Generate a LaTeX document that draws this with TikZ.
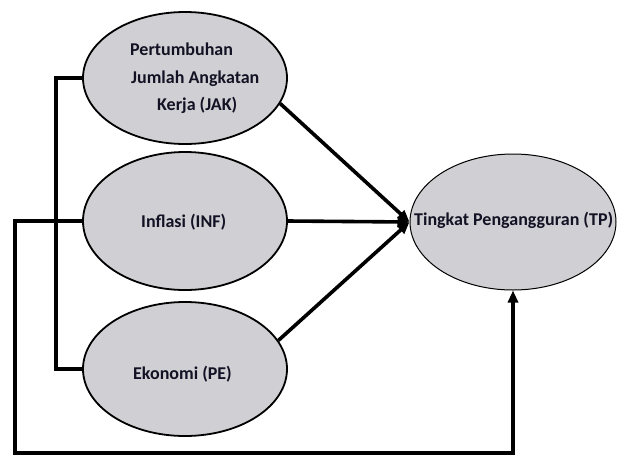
\documentclass[tikz,border=0pt]{standalone}
\usepackage{fontspec}
\setmainfont{Carlito}
\usetikzlibrary{shapes.geometric,arrows.meta}
\definecolor{ellfill}{RGB}{208,207,211}
\definecolor{txt}{RGB}{18,18,36}
\begin{document}
\begin{tikzpicture}[x=1pt,y=-1pt,
  var/.style={ellipse,draw=black,line width=1.8pt,fill=ellfill,inner sep=0pt,
    minimum width=204pt,minimum height=132pt},
  lbl/.style={font=\bfseries\fontsize{18}{22}\selectfont,text=txt,inner sep=0pt,anchor=base west},
  conn/.style={line width=3.6pt},
  arr/.style={conn,-{Triangle[length=12pt,width=10pt]}}]
\useasboundingbox (0,0) rectangle (622,456);
\node[var] (jak) at (185,78) {};
\node[var,minimum height=138pt] (inf) at (185,221) {};
\node[var,minimum height=134pt] (pe) at (185,369) {};
\node[var,line width=1pt,minimum width=206pt,minimum height=136pt] (tp) at (513,222) {};
\node[lbl] (t1) at (130,55) {Pertumbuhan};
\node[lbl] (t2) at (131,83) {Jumlah Angkatan};
\node[lbl] (t3) at (157,110) {Kerja (JAK)};
\node[lbl] (t4) at (141,227) {Inflasi (INF)};
\node[lbl] (t5) at (133,379) {Ekonomi (PE)};
\node[lbl] (t6) at (414,225) {Tingkat Pengangguran (TP)};
\coordinate (c1) at (15,453);
\draw[conn] (jak.west) -- ++(-26,0) |- (pe.west);
\draw[arr] (jak.-15) -- (tp.west);
\draw[arr] (inf.east) -- (tp.west);
\draw[arr] (pe.17) -- (tp.west);
\draw[arr] (inf.west) -| (c1) -| (tp.south);
\end{tikzpicture}
\end{document}
